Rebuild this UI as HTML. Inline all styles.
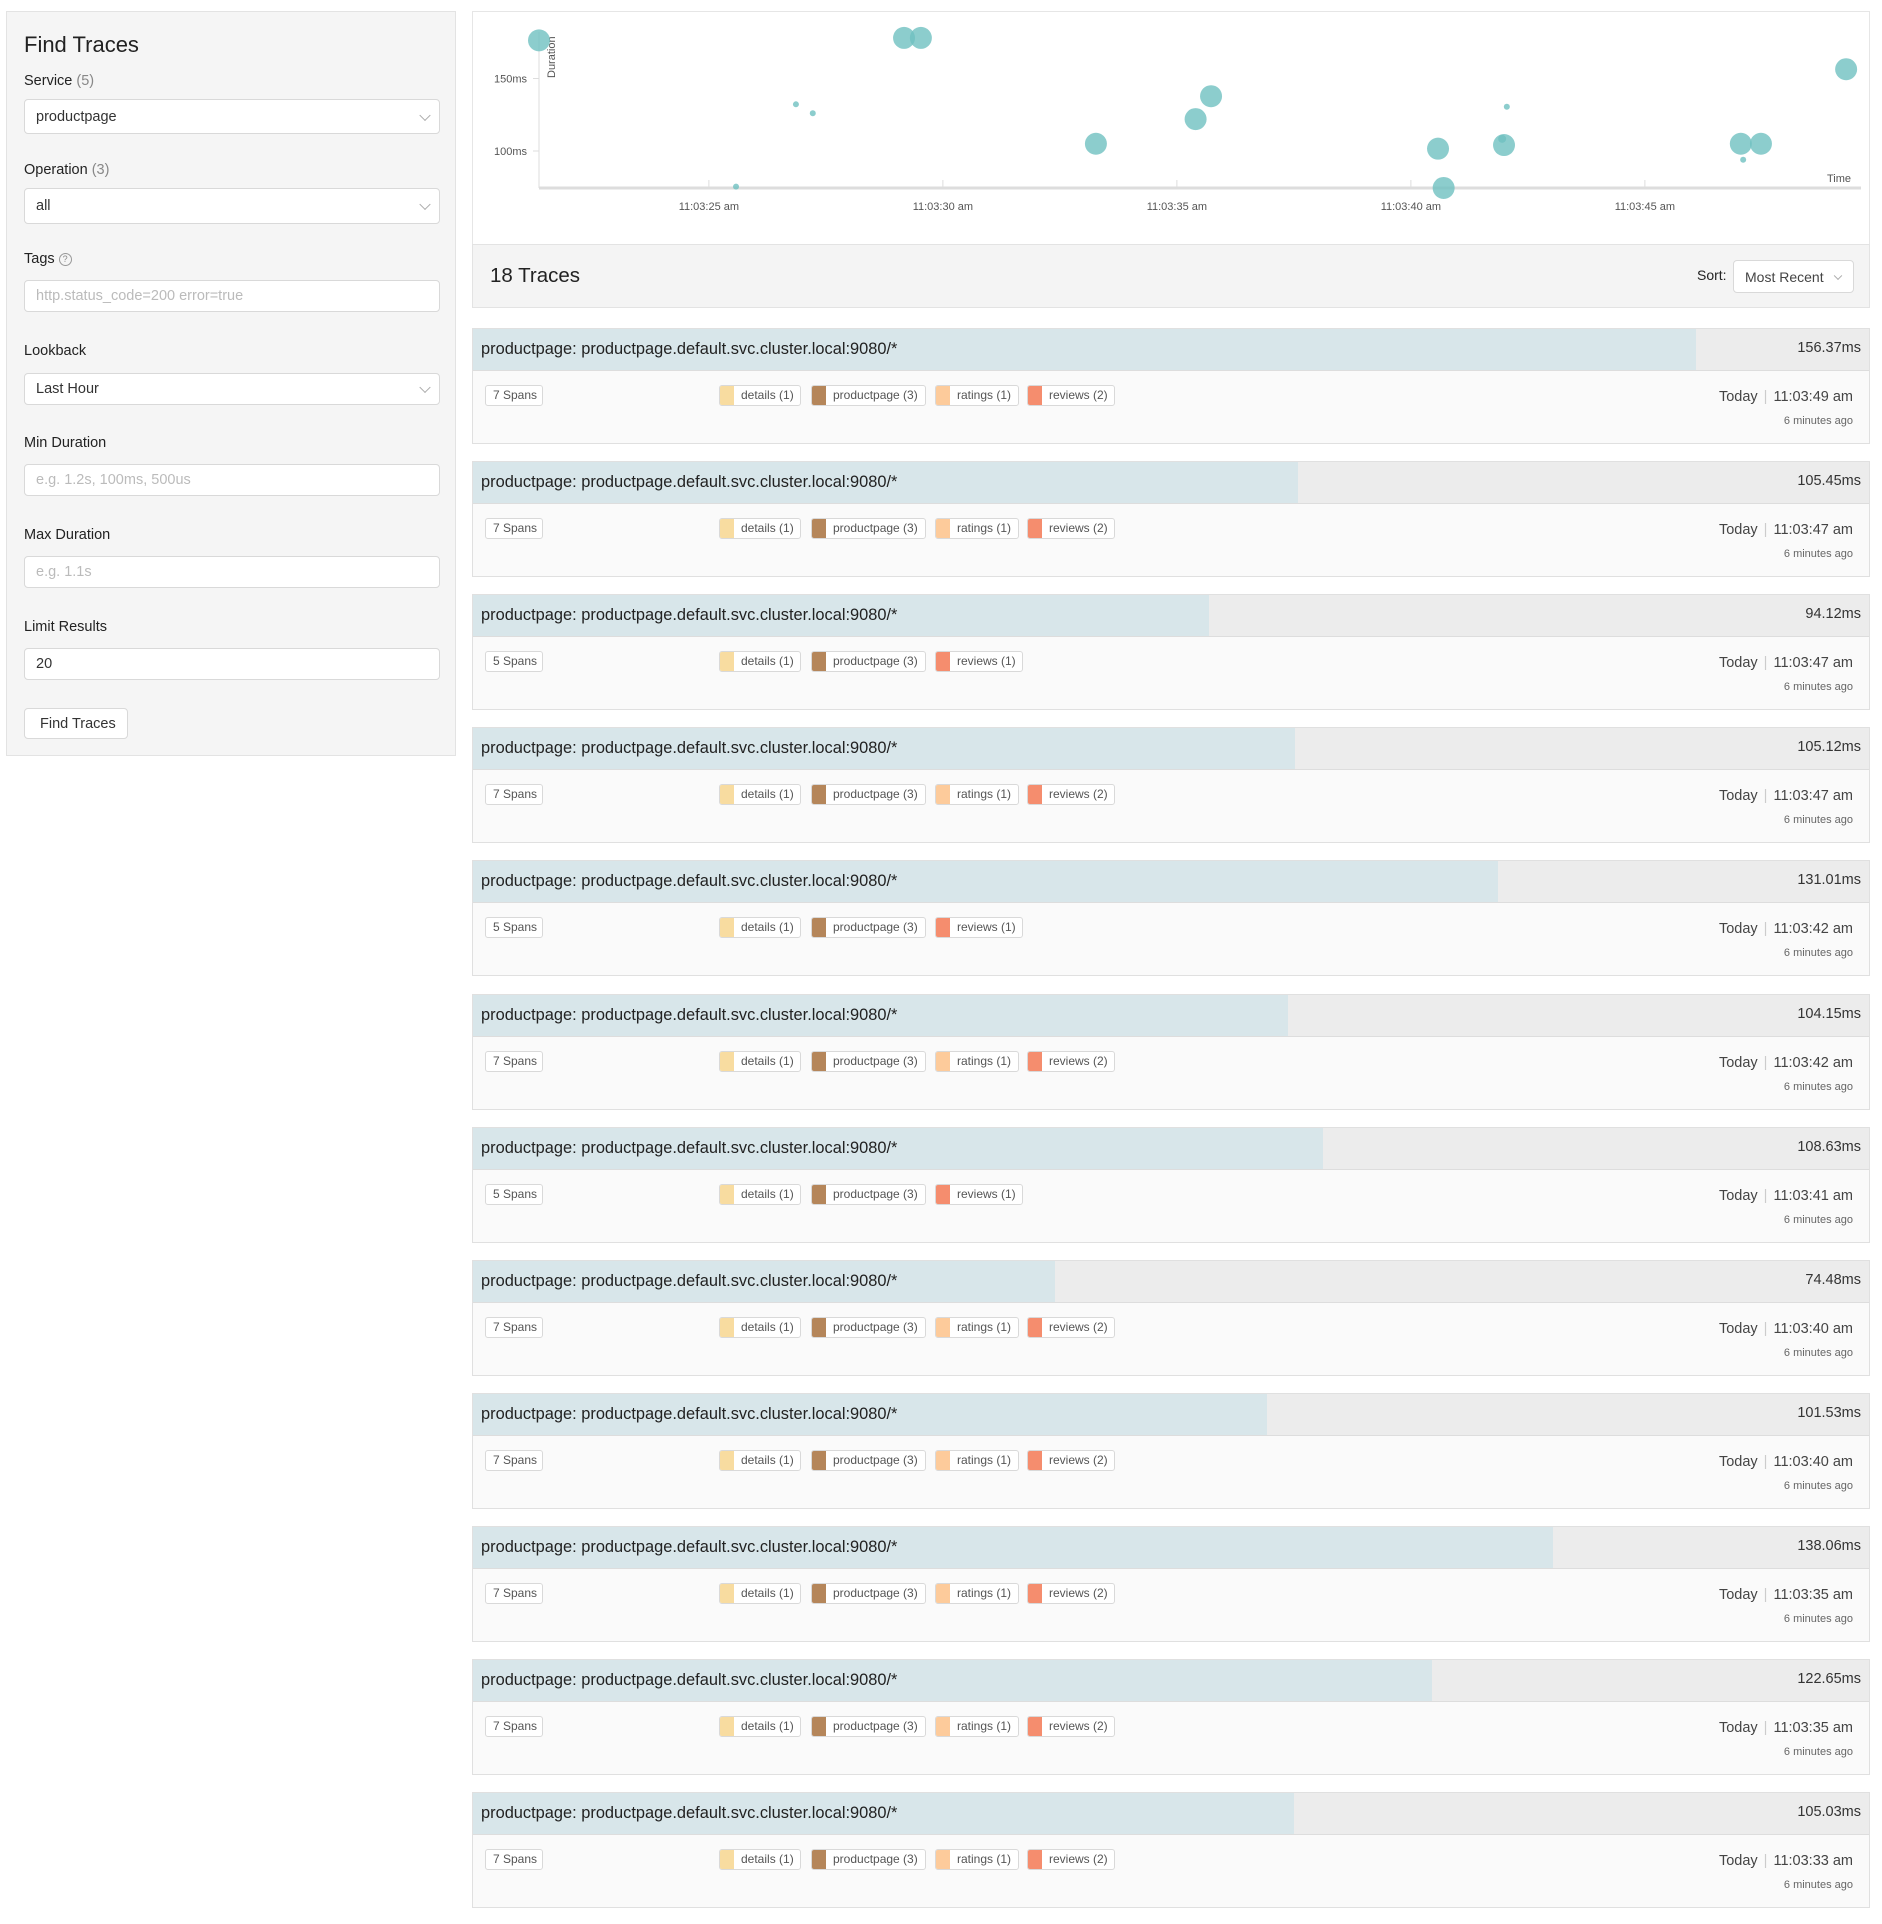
<!DOCTYPE html>
<html><head><meta charset="utf-8">
<style>
*{box-sizing:border-box;margin:0;padding:0}
body{width:1882px;height:1924px;background:#fff;font-family:"Liberation Sans",sans-serif;color:#222;position:relative;overflow:hidden}
.abs{position:absolute}
#sidebar{left:6px;top:11px;width:450px;height:745px;background:#f5f5f5;border:1px solid #e3e3e3}
.lbl{position:absolute;left:17px;font-size:14.5px;color:#222}
.lbl span{color:#888}
.inp{position:absolute;left:17px;width:416px;background:#fff;border:1px solid #d9d9d9;border-radius:4px;font-size:14.5px;padding-left:11px;display:flex;align-items:center;color:#333}
.ph{color:#bbb}
.chev{position:absolute;right:10px;top:50%;width:8px;height:8px;border-right:1px solid #aaa;border-bottom:1px solid #aaa;transform:translateY(-70%) rotate(45deg)}
#chartpanel{left:472px;top:11px;width:1398px;height:234px;border:1px solid #e6e6e6;background:#fff}
#hdr{left:472px;top:244px;width:1398px;height:64px;background:#f4f4f4;border:1px solid #e3e3e3}
.row{position:absolute;left:472px;width:1398px;height:116px;border:1px solid #e0e0e0;background:#fafafa}
.tbar{position:absolute;left:0;top:0;width:100%;height:42px;background:#ececec;border-bottom:1px solid #ddd}
.tfill{position:absolute;left:0;top:0;height:100%;background:#d8e6ea}
.ttl{position:absolute;left:8px;top:11px;font-size:16.4px;color:#222}
.dur{position:absolute;right:8px;top:11px;font-size:14.5px;color:#333}
.tag{position:absolute;top:56px;height:21px;border:1px solid #d9d9d9;border-radius:3px;background:#fff;font-size:12px;color:#555;line-height:19px;white-space:nowrap;overflow:hidden}
.tag i{position:absolute;left:0;top:0;width:14px;height:100%}
.when{position:absolute;right:16px;top:60px;font-size:14.5px;color:#444}
.when b{font-weight:normal;color:#ccc;margin:0 6px}
.ago{position:absolute;right:16px;top:86px;font-size:11px;color:#666}
</style></head><body>

<div id="sidebar" class="abs">
  <div class="abs" style="left:17px;top:20px;font-size:22px;color:#222">Find Traces</div>
  <div class="lbl" style="top:61px">Service <span>(5)</span></div>
  <div class="inp" style="top:87px;height:35px">productpage<i class="chev"></i></div>
  <div class="lbl" style="top:150px">Operation <span>(3)</span></div>
  <div class="inp" style="top:176px;height:36px">all<i class="chev"></i></div>
  <div class="lbl" style="top:239px">Tags <span style="display:inline-block;width:13px;height:13px;border:1px solid #999;border-radius:50%;font-size:9px;text-align:center;line-height:11px;vertical-align:middle">?</span></div>
  <div class="inp ph" style="top:268px;height:32px">http.status_code=200 error=true</div>
  <div class="lbl" style="top:331px">Lookback</div>
  <div class="inp" style="top:361px;height:32px">Last Hour<i class="chev"></i></div>
  <div class="lbl" style="top:423px">Min Duration</div>
  <div class="inp ph" style="top:452px;height:32px">e.g. 1.2s, 100ms, 500us</div>
  <div class="lbl" style="top:515px">Max Duration</div>
  <div class="inp ph" style="top:544px;height:32px">e.g. 1.1s</div>
  <div class="lbl" style="top:607px">Limit Results</div>
  <div class="inp" style="top:636px;height:32px">20</div>
  <div class="inp" style="top:696px;height:31px;width:104px;padding-left:15px">Find Traces</div>
</div>

<div id="chartpanel" class="abs">
<svg id="chart" width="1398" height="234"></svg>
</div>

<div id="hdr" class="abs">
  <div class="abs" style="left:17px;top:19px;font-size:20.5px;color:#222">18 Traces</div>
  <div class="abs" style="left:1224px;top:22px;font-size:14px;color:#222">Sort:</div>
  <div class="abs" style="left:1260px;top:15px;width:121px;height:33px;background:#fff;border:1px solid #d9d9d9;border-radius:4px;font-size:14px;color:#444;padding:8px 11px">Most Recent<i class="chev" style="right:12px;width:6px;height:6px"></i></div>
</div>

<div id="rows"></div>

<script>
// chart data
const traceTimesSec = [21.37,25.58,26.86,27.22,29.17,29.53,33.27,35.4,35.73,40.58,40.7,42.05,41.95,41.99,47.05,47.1,47.48,49.3];
const traceDurationsMs = [176.3,75.4,132.2,126,178,178,105,122,137.8,101.6,74.5,130.5,108.4,104.1,105,94,105,156.4];
const traceSpanCounts = [7,1,1,1,7,7,7,7,7,7,7,1,2,7,7,1,7,7];
const xTickValues = [25,30,35,40,45];
const xTickLabels = ["11:03:25 am","11:03:30 am","11:03:35 am","11:03:40 am","11:03:45 am"];
const yTickValues = [100,150];
const yTickLabels = ["100ms","150ms"];

// list data
const rowDurations = [156.37,105.45,94.12,105.12,131.01,104.15,108.63,74.48,101.53,138.06,122.65,105.03];
const rowSpans = [7,7,5,7,5,7,5,7,7,7,7,7];
const rowTimes = ["11:03:49 am","11:03:47 am","11:03:47 am","11:03:47 am","11:03:42 am","11:03:42 am","11:03:41 am","11:03:40 am","11:03:40 am","11:03:35 am","11:03:35 am","11:03:33 am"];
const maxDurationMs = 178.5;

const NS="http://www.w3.org/2000/svg";
const svg=document.getElementById('chart');
const x0=66, xT0=21.37, pxPerSec=46.8;
const xScale=t=>x0+(t-xT0)*pxPerSec;
const yScale=v=>139-(v-100)*1.45;
function mk(tag,attrs){const e=document.createElementNS(NS,tag);for(const k in attrs)e.setAttribute(k,attrs[k]);svg.appendChild(e);return e;}
let a=mk('line',{x1:x0,y1:20,x2:x0,y2:176,stroke:'#ddd','stroke-width':1});


a=mk('line',{x1:x0,y1:176,x2:1388,y2:176,stroke:'#ddd','stroke-width':3});


xTickValues.forEach((v,i)=>{
  const x=xScale(v);
  let t=mk('line',{x1:x,y1:168,x2:x,y2:176,stroke:'#ddd'});
  
  
  let l=mk('text',{x:x,y:198,'text-anchor':'middle','font-size':11,fill:'#555','font-family':'Liberation Sans'});
  l.textContent=xTickLabels[i];
  
  
});
yTickValues.forEach((v,i)=>{
  const y=yScale(v);
  let t=mk('line',{x1:x0-6,y1:y,x2:x0,y2:y,stroke:'#ddd'});
  
  
  let l=mk('text',{x:x0-12,y:y+4,'text-anchor':'end','font-size':11,fill:'#555','font-family':'Liberation Sans'});
  l.textContent=yTickLabels[i];
  
  
});
let yt=mk('text',{x:0,y:0,'font-size':11,fill:'#555','font-family':'Liberation Sans',transform:'translate(82,66) rotate(-90)'});
yt.textContent='Duration';


let xt=mk('text',{x:1378,y:170,'text-anchor':'end','font-size':11,fill:'#555','font-family':'Liberation Sans'});
xt.textContent='Time';


traceTimesSec.forEach((t,i)=>{
  const r=traceSpanCounts[i]>=5?11:(traceSpanCounts[i]>1?4:3);
  const c=mk('circle',{cx:xScale(t),cy:yScale(traceDurationsMs[i]),r:r,fill:'#6fc1c1','fill-opacity':0.8});
  
  
});

// rows
const rows=document.getElementById('rows');
const tags7=[["details (1)","#f8dca0",720,82],["productpage (3)","#b5865a",812,115],["ratings (1)","#fdcb9b",936,84],["reviews (2)","#f58d6e",1028,88]];
const tags5=[["details (1)","#f8dca0",720,82],["productpage (3)","#b5865a",812,115],["reviews (1)","#f58d6e",936,88]];
rowDurations.forEach((d,i)=>{
  const r=document.createElement('div');
  r.className='row';
  r.style.top=(328+i*133.1)+'px';
  
  
  const tg=rowSpans[i]===7?tags7:tags5;
  let h='<div class="tbar"><div class="tfill" style="width:'+(d/maxDurationMs*100)+'%"></div>'+
   '<div class="ttl">productpage: productpage.default.svc.cluster.local:9080/*</div>'+
   '<div class="dur">'+d.toFixed(2)+'ms</div></div>'+
   '<div class="tag" style="left:12px;width:58px;padding-left:7px">'+rowSpans[i]+' Spans</div>';
  tg.forEach(t=>{h+='<div class="tag" style="left:'+(t[2]-474)+'px;width:'+t[3]+'px;padding-left:21px"><i style="background:'+t[1]+'"></i>'+t[0]+'</div>';});
  h+='<div class="when">Today<b>|</b>'+rowTimes[i]+'</div><div class="ago">6 minutes ago</div>';
  r.innerHTML=h;
  rows.appendChild(r);
});
</script>
</body></html>
